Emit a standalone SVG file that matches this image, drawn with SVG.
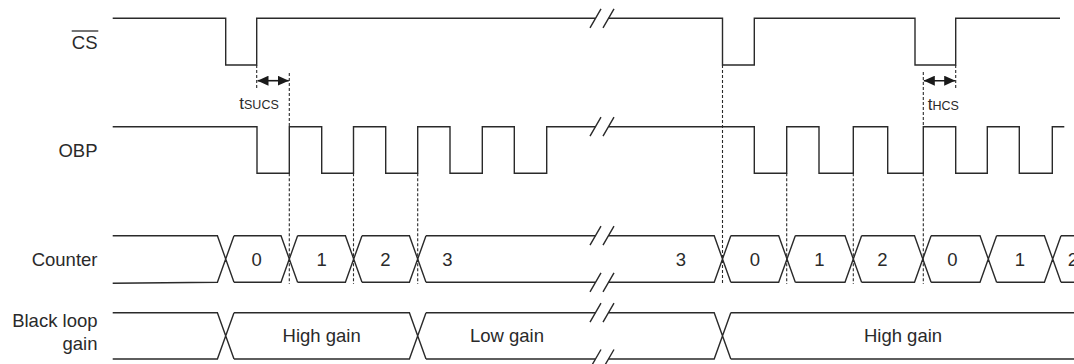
<svg xmlns="http://www.w3.org/2000/svg" width="1074" height="364" viewBox="0 0 1074 364">
<defs>
<style>
.w{fill:none;stroke:#2a2a2a;stroke-width:1.4;stroke-linejoin:miter}
.d{fill:none;stroke:#2a2a2a;stroke-width:1.1;stroke-dasharray:3 2}
.a{fill:none;stroke:#1a1a1a;stroke-width:1.6}
.lbl{font-family:"Liberation Sans",Arial,sans-serif;font-size:18.5px;fill:#2a2a2a}
.r{text-anchor:end}
.m{text-anchor:middle}
.sm{font-size:12.5px}
.t{font-size:17px}
</style>
<marker id="ah" viewBox="0 0 11 10" refX="11" refY="5" markerWidth="11" markerHeight="10" markerUnits="userSpaceOnUse" orient="auto-start-reverse">
<path d="M0,0 L11,5 L0,10 z" fill="#1a1a1a"/>
</marker>
</defs>
<rect width="1074" height="364" fill="#fff"/>

<g id="labels">
<text class="lbl r" x="97.5" y="49">CS</text>
<line x1="71.7" y1="31" x2="98.3" y2="31" stroke="#2a2a2a" stroke-width="1.3"/>
<text class="lbl r" x="97.5" y="157.3">OBP</text>
<text class="lbl r" x="97.5" y="266">Counter</text>
<text class="lbl r" x="97.5" y="327.3">Black loop</text>
<text class="lbl r" x="97.5" y="350.3">gain</text>
</g>

<g id="cs">
<path class="w" d="M112.7,18.3 H225.7 V65 H256.7 V18.3 H595.5 M608.5,18.3 H722.5 V65 H754.3 V18.3 H915 V65 H955.7 V18.3 H1060"/>
<path class="w" d="M590,27.8 L601,8.8 M603,27.8 L614,8.8"/>
</g>

<g id="obp">
<path class="w" d="M112.7,126.7 H257 V173.3 H289.3 V126.7 H321.7 V173.3 H353.5 V126.7 H385.7 V173.3 H417.7 V126.7 H450 V173.3 H482.3 V126.7 H514.3 V173.3 H546.7 V126.7 H595.5 M608.5,126.7 H754.3 V173.3 H786.7 V126.7 H819 V173.3 H853.3 V126.7 H887.7 V173.3 H923.3 V126.7 H955.7 V173.3 H987.3 V126.7 H1019.3 V173.3 H1052.3 V126.7 H1064.3"/>
<path class="w" d="M590,136.2 L601,117.2 M603,136.2 L614,117.2"/>
</g>

<g id="counter">
<path class="w" d="M112.7,235.7 H217.4 L234,282.3 M112.7,283.3 L217.4,282.3 L234,235.7
M234,235.7 H281 L297.6,282.3 M234,282.3 H281 L297.6,235.7
M297.6,235.7 H345.4 L362,282.3 M297.6,282.3 H345.4 L362,235.7
M362,235.7 H409.4 L426,282.3 M362,282.3 H409.4 L426,235.7
M426,235.7 H595.5 M608.5,235.7 H714.2 L730.8,282.3 M426,282.3 H595.5 M608.5,282.3 H714.2 L730.8,235.7
M730.8,235.7 H778.7 L795.3,282.3 M730.8,282.3 H778.7 L795.3,235.7
M795.3,235.7 H845 L861.6,282.3 M795.3,282.3 H845 L861.6,235.7
M861.6,235.7 H914.5 L931.1,282.3 M861.6,282.3 H914.5 L931.1,235.7
M931.1,235.7 H980 L996.6,282.3 M931.1,282.3 H980 L996.6,235.7
M996.6,235.7 H1044.4 L1061,282.3 M996.6,282.3 H1044.4 L1061,235.7
M1061,235.7 H1074 M1061,282.3 H1074"/>
<path class="w" d="M590,245.2 L601,226.2 M603,245.2 L614,226.2 M590,291.8 L601,272.8 M603,291.8 L614,272.8"/>
<text class="lbl m" x="256.7" y="266">0</text>
<text class="lbl m" x="321.7" y="266">1</text>
<text class="lbl m" x="385.5" y="266">2</text>
<text class="lbl m" x="447.5" y="266">3</text>
<text class="lbl m" x="680.8" y="266">3</text>
<text class="lbl m" x="755" y="266">0</text>
<text class="lbl m" x="819.5" y="266">1</text>
<text class="lbl m" x="882.5" y="266">2</text>
<text class="lbl m" x="952.5" y="266">0</text>
<text class="lbl m" x="1020" y="266">1</text>
<text class="lbl m" x="1073" y="266">2</text>
</g>

<g id="gain">
<path class="w" d="M112.7,312.7 H217.4 L234,359 M112.7,359 H217.4 L234,312.7
M234,312.7 H409.4 L426,359 M234,359 H409.4 L426,312.7
M426,312.7 H595.5 M608.5,312.7 H714.2 L730.8,359 M426,359 H595.5 M608.5,359 H714.2 L730.8,312.7
M730.8,312.7 H1074 M730.8,359 H1074"/>
<path class="w" d="M590,322.2 L601,303.2 M603,322.2 L614,303.2 M590,368.5 L601,349.5 M603,368.5 L614,349.5"/>
<text class="lbl m" x="321.7" y="342.3">High gain</text>
<text class="lbl m" x="507" y="342">Low gain</text>
<text class="lbl m" x="903" y="342.3">High gain</text>
</g>

<g id="connectors">
<line class="d" x1="256.7" y1="65" x2="256.7" y2="89"/>
<line class="d" x1="289.3" y1="73" x2="289.3" y2="126.7"/>
<line class="d" x1="289.3" y1="173.3" x2="289.3" y2="284"/>
<line class="d" x1="353.5" y1="173.3" x2="353.5" y2="284"/>
<line class="d" x1="417.7" y1="173.3" x2="417.7" y2="284"/>
<line class="d" x1="722.5" y1="65" x2="722.5" y2="284"/>
<line class="d" x1="786.7" y1="173.3" x2="786.7" y2="284"/>
<line class="d" x1="853.3" y1="173.3" x2="853.3" y2="284"/>
<line class="d" x1="923.3" y1="72" x2="923.3" y2="126.7"/>
<line class="d" x1="923.3" y1="173.3" x2="923.3" y2="284"/>
<line class="d" x1="955.7" y1="65" x2="955.7" y2="90"/>
<line class="a" x1="257.5" y1="80.7" x2="288.8" y2="80.7" marker-start="url(#ah)" marker-end="url(#ah)"/>
<line class="a" x1="923.8" y1="80.7" x2="955.2" y2="80.7" marker-start="url(#ah)" marker-end="url(#ah)"/>
<text class="lbl" x="239.3" y="109.3"><tspan class="t">t</tspan><tspan class="sm">SUCS</tspan></text>
<text class="lbl" x="927.7" y="110"><tspan class="t">t</tspan><tspan class="sm">HCS</tspan></text>
</g>
</svg>
